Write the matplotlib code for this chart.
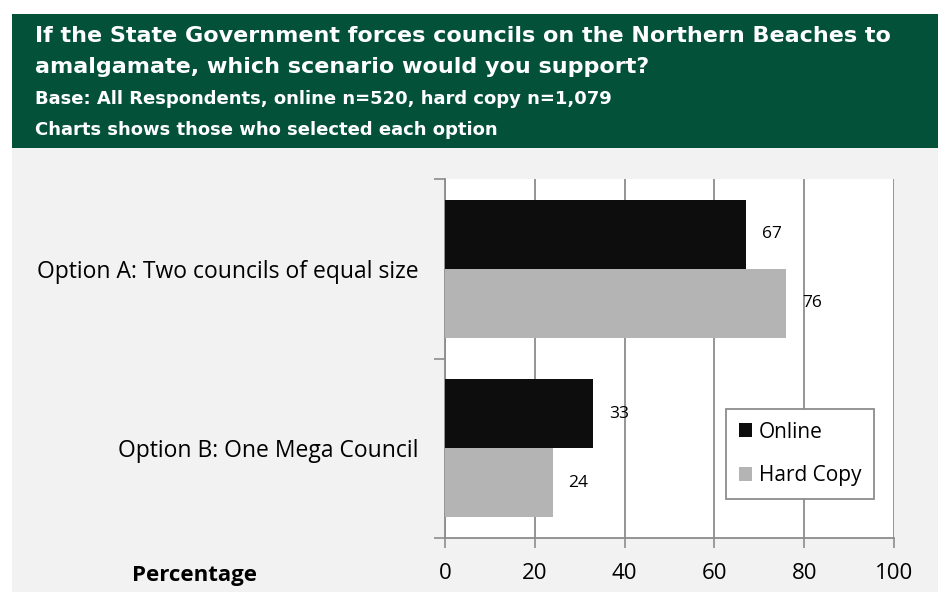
import numpy as np
import matplotlib.pyplot as plt
from matplotlib.patches import Rectangle

# Datos
categories = ['Option B: One Mega Council', 'Option A: Two councils of equal size']
online = [33, 67]
hard_copy = [24, 76]
series_names = ['Online', 'Hard Copy']
x_ticks = [0, 20, 40, 60, 80, 100]

title_lines = [
    'If the State Government forces councils on the Northern Beaches to',
    'amalgamate, which scenario would you support?',
]
sub_lines = [
    'Base: All Respondents, online n=520, hard copy n=1,079',
    'Charts shows those who selected each option',
]

W, H = 938, 592
fig = plt.figure(figsize=(W / 100, H / 100), dpi=100)
fig.patch.set_facecolor('white')

# Fondo gris y cabecera verde
fig.patches.append(Rectangle((12 / W, 0), 1, 1 - 148 / H, transform=fig.transFigure,
                             facecolor='#F2F2F2', edgecolor='none', zorder=-10))
fig.patches.append(Rectangle((12 / W, 1 - 148 / H), 1, (148 - 14) / H, transform=fig.transFigure,
                             facecolor='#04513A', edgecolor='none', zorder=-10))

font = 'DejaVu Sans'
fig.text(35 / W, 1 - 36 / H, title_lines[0], color='white', fontsize=16,
         fontweight='bold', va='center', family=font)
fig.text(35 / W, 1 - 67 / H, title_lines[1], color='white', fontsize=16,
         fontweight='bold', va='center', family=font)
fig.text(35 / W, 1 - 99 / H, sub_lines[0], color='white', fontsize=13,
         fontweight='bold', va='center', family=font)
fig.text(35 / W, 1 - 130 / H, sub_lines[1], color='white', fontsize=13,
         fontweight='bold', va='center', family=font)

# Ejes
left, right, top, bottom = 445, 894, 179, 538
ax = fig.add_axes([left / W, 1 - bottom / H, (right - left) / W, (bottom - top) / H])
ax.set_facecolor('white')

y = np.arange(len(categories))
h = 0.385
ax.barh(y + h / 2, online, height=h, color='#0D0D0D', label=series_names[0], zorder=3)
ax.barh(y - h / 2, hard_copy, height=h, color='#B4B4B4', label=series_names[1], zorder=3)

for yi, v in zip(y, online):
    ax.text(v + 3.5, yi + h / 2, str(v), va='center', ha='left', fontsize=12.5,
            family='Open Sans', zorder=4)
for yi, v in zip(y, hard_copy):
    ax.text(v + 3.5, yi - h / 2, str(v), va='center', ha='left', fontsize=12.5,
            family='Open Sans', zorder=4)

ax.set_xlim(0, 100)
ax.set_ylim(-0.5, len(categories) - 0.5)
ax.set_xticks(x_ticks)
ax.set_xticklabels([str(t) for t in x_ticks], fontsize=16, family='Open Sans')
ax.set_yticks(y)
ax.set_yticklabels(categories, fontsize=16.5, family='Open Sans')
ax.tick_params(axis='y', length=0, pad=19)
ax.set_yticks(np.arange(-0.5, len(categories)), minor=True)
ax.tick_params(axis='y', which='minor', length=8, color='#8C8C8C', width=1.2)
ax.tick_params(axis='x', length=7, color='#8C8C8C', width=1.2, pad=11)

ax.grid(axis='x', color='#8C8C8C', linewidth=1.3, zorder=1)
for s in ['top', 'right']:
    ax.spines[s].set_visible(False)
for s in ['left', 'bottom']:
    ax.spines[s].set_color('#8C8C8C')
    ax.spines[s].set_linewidth(1.3)

fig.text(194 / W, 1 - 575 / H, 'Percentage', fontsize=16, fontweight='bold',
         ha='center', va='center', family='Open Sans')

leg = ax.legend(loc='center', bbox_to_anchor=((800 - left) / (right - left), (bottom - 454) / (bottom - top)),
                fancybox=False, framealpha=1, edgecolor='#8C8C8C',
                prop={'family': 'Open Sans', 'size': 15}, handlelength=0.63, handleheight=0.63,
                handletextpad=0.34, labelspacing=1.1, borderpad=0.6)
leg.get_frame().set_linewidth(1.3)

fig.savefig('out.png', dpi=100)
